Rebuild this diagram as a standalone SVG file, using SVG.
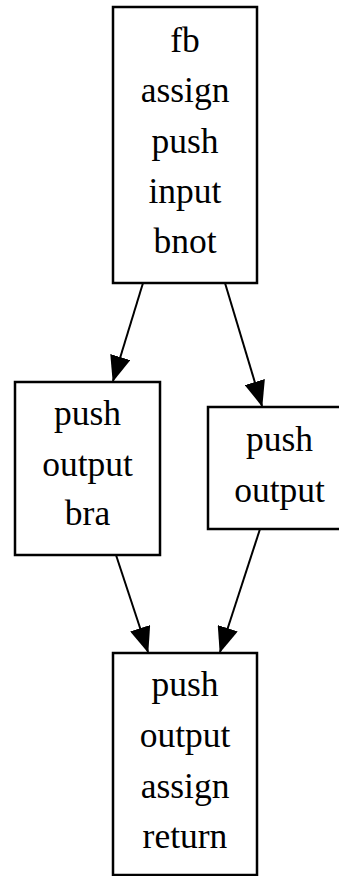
<svg xmlns="http://www.w3.org/2000/svg" width="339" height="876" viewBox="0 0 339 876">
<style>
.box{fill:#fff;stroke:#000;stroke-width:2.5}
.lbl{font-family:"Liberation Serif","Times New Roman",serif;font-size:35.5px;text-anchor:middle;fill:#000}
.edge{fill:none;stroke:#000;stroke-width:2;marker-end:url(#ah)}
</style>
<defs>
<marker id="ah" markerUnits="userSpaceOnUse" viewBox="0 0 26 21" refX="25" refY="10.5" markerWidth="26" markerHeight="21" orient="auto">
<path d="M0,0 L26,10.5 L0,21 z" fill="#000"/>
</marker>
</defs>
<rect width="339" height="876" fill="#fff"/>
<g id="connectors">
<path class="edge" d="M143,283 L113,381"/>
<path class="edge" d="M225,283 L262,406"/>
<path class="edge" d="M116,555 L148,652"/>
<path class="edge" d="M260,529 L220,652"/>
</g>
<g id="n1">
<rect class="box" x="113" y="7" width="144" height="276"/>
<text class="lbl" x="185" y="52">fb</text>
<text class="lbl" x="185" y="102">assign</text>
<text class="lbl" x="185" y="153">push</text>
<text class="lbl" x="185" y="203">input</text>
<text class="lbl" x="185" y="253">bnot</text>
</g>
<g id="n2">
<rect class="box" x="15" y="382" width="145" height="173"/>
<text class="lbl" x="87.5" y="425">push</text>
<text class="lbl" x="87.5" y="476">output</text>
<text class="lbl" x="87.5" y="525">bra</text>
</g>
<g id="n3">
<rect class="box" x="208" y="407" width="143" height="122"/>
<text class="lbl" x="279.5" y="451">push</text>
<text class="lbl" x="279.5" y="502">output</text>
</g>
<g id="n4">
<rect class="box" x="113" y="653" width="144" height="222"/>
<text class="lbl" x="185" y="696">push</text>
<text class="lbl" x="185" y="747">output</text>
<text class="lbl" x="185" y="798">assign</text>
<text class="lbl" x="185" y="848">return</text>
</g>
</svg>
